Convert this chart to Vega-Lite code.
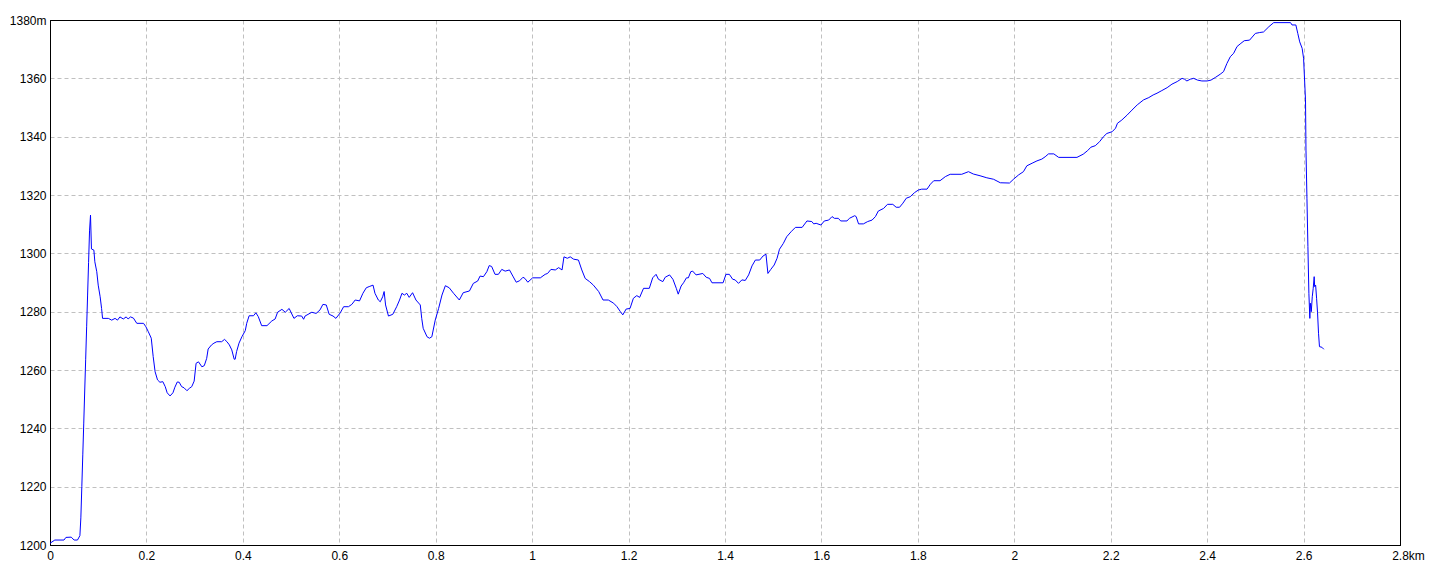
{
  "$schema": "https://vega.github.io/schema/vega-lite/v6.json",
  "width": 1350,
  "height": 525,
  "autosize": {"type": "none"},
  "padding": {"left": 50, "top": 20, "right": 40, "bottom": 31},
  "background": "white",
  "config": {
    "view": {"stroke": "black", "strokeWidth": 1},
    "axis": {
      "domainColor": "black",
      "domainWidth": 1,
      "ticks": false,
      "grid": true,
      "gridWidth": 1,
      "labelFont": "Liberation Sans",
      "labelFontSize": 12,
      "labelColor": "black",
      "title": null
    }
  },
  "data": {
    "values": [
      {"km": 0.000, "m": 1200.6}, {"km": 0.010, "m": 1201.7}, {"km": 0.029, "m": 1201.7}, {"km": 0.033, "m": 1202.6},
      {"km": 0.044, "m": 1202.7}, {"km": 0.050, "m": 1201.7}, {"km": 0.057, "m": 1201.7}, {"km": 0.062, "m": 1203.2},
      {"km": 0.064, "m": 1209.3}, {"km": 0.066, "m": 1220.0}, {"km": 0.068, "m": 1230.9}, {"km": 0.070, "m": 1241.8},
      {"km": 0.072, "m": 1252.8}, {"km": 0.074, "m": 1263.7}, {"km": 0.076, "m": 1274.8}, {"km": 0.078, "m": 1285.7},
      {"km": 0.080, "m": 1296.8}, {"km": 0.082, "m": 1307.7}, {"km": 0.084, "m": 1313.1}, {"km": 0.086, "m": 1301.5},
      {"km": 0.091, "m": 1301.1}, {"km": 0.093, "m": 1297.1}, {"km": 0.097, "m": 1293.7}, {"km": 0.100, "m": 1289.1},
      {"km": 0.104, "m": 1285.1}, {"km": 0.107, "m": 1281.1}, {"km": 0.109, "m": 1277.7}, {"km": 0.121, "m": 1277.7},
      {"km": 0.128, "m": 1277.1}, {"km": 0.135, "m": 1277.7}, {"km": 0.140, "m": 1277.1}, {"km": 0.145, "m": 1278.2},
      {"km": 0.152, "m": 1277.5}, {"km": 0.158, "m": 1278.2}, {"km": 0.162, "m": 1277.5}, {"km": 0.167, "m": 1278.2},
      {"km": 0.173, "m": 1277.8}, {"km": 0.180, "m": 1276.0}, {"km": 0.194, "m": 1276.0}, {"km": 0.199, "m": 1274.8},
      {"km": 0.204, "m": 1273.1}, {"km": 0.210, "m": 1270.9}, {"km": 0.214, "m": 1264.6}, {"km": 0.218, "m": 1259.4},
      {"km": 0.223, "m": 1256.6}, {"km": 0.228, "m": 1255.8}, {"km": 0.234, "m": 1256.0}, {"km": 0.239, "m": 1254.3},
      {"km": 0.243, "m": 1252.2}, {"km": 0.249, "m": 1251.1}, {"km": 0.255, "m": 1252.2}, {"km": 0.259, "m": 1254.1},
      {"km": 0.264, "m": 1255.9}, {"km": 0.268, "m": 1255.8}, {"km": 0.273, "m": 1254.3}, {"km": 0.278, "m": 1253.9},
      {"km": 0.284, "m": 1252.9}, {"km": 0.289, "m": 1253.7}, {"km": 0.294, "m": 1254.3}, {"km": 0.299, "m": 1256.2},
      {"km": 0.303, "m": 1262.3}, {"km": 0.308, "m": 1262.8}, {"km": 0.315, "m": 1261.1}, {"km": 0.320, "m": 1261.5},
      {"km": 0.325, "m": 1264.0}, {"km": 0.328, "m": 1267.2}, {"km": 0.335, "m": 1268.6}, {"km": 0.340, "m": 1269.2},
      {"km": 0.346, "m": 1269.7}, {"km": 0.356, "m": 1269.7}, {"km": 0.362, "m": 1270.5}, {"km": 0.367, "m": 1269.7},
      {"km": 0.372, "m": 1268.6}, {"km": 0.377, "m": 1266.9}, {"km": 0.382, "m": 1263.7}, {"km": 0.384, "m": 1263.7},
      {"km": 0.387, "m": 1266.3}, {"km": 0.392, "m": 1269.2}, {"km": 0.398, "m": 1271.4}, {"km": 0.405, "m": 1273.5},
      {"km": 0.408, "m": 1276.0}, {"km": 0.413, "m": 1278.6}, {"km": 0.422, "m": 1278.6}, {"km": 0.427, "m": 1279.6},
      {"km": 0.432, "m": 1278.3}, {"km": 0.439, "m": 1275.2}, {"km": 0.450, "m": 1275.2}, {"km": 0.460, "m": 1276.8},
      {"km": 0.467, "m": 1277.5}, {"km": 0.472, "m": 1279.8}, {"km": 0.481, "m": 1280.8}, {"km": 0.488, "m": 1279.8},
      {"km": 0.496, "m": 1281.1}, {"km": 0.506, "m": 1277.7}, {"km": 0.513, "m": 1278.6}, {"km": 0.522, "m": 1278.5},
      {"km": 0.526, "m": 1277.4}, {"km": 0.529, "m": 1278.5}, {"km": 0.543, "m": 1279.8}, {"km": 0.552, "m": 1279.4},
      {"km": 0.560, "m": 1280.6}, {"km": 0.566, "m": 1282.5}, {"km": 0.573, "m": 1282.3}, {"km": 0.579, "m": 1279.1},
      {"km": 0.587, "m": 1278.5}, {"km": 0.593, "m": 1277.7}, {"km": 0.602, "m": 1279.6}, {"km": 0.609, "m": 1281.7},
      {"km": 0.619, "m": 1281.7}, {"km": 0.626, "m": 1282.5}, {"km": 0.633, "m": 1284.0}, {"km": 0.642, "m": 1283.7},
      {"km": 0.649, "m": 1286.3}, {"km": 0.656, "m": 1288.2}, {"km": 0.662, "m": 1288.6}, {"km": 0.670, "m": 1289.1},
      {"km": 0.674, "m": 1286.3}, {"km": 0.681, "m": 1284.0}, {"km": 0.685, "m": 1283.4}, {"km": 0.690, "m": 1285.1},
      {"km": 0.693, "m": 1286.9}, {"km": 0.696, "m": 1282.3}, {"km": 0.702, "m": 1278.5}, {"km": 0.711, "m": 1279.1},
      {"km": 0.719, "m": 1281.7}, {"km": 0.725, "m": 1284.0}, {"km": 0.730, "m": 1286.3}, {"km": 0.735, "m": 1285.7},
      {"km": 0.740, "m": 1286.3}, {"km": 0.745, "m": 1284.9}, {"km": 0.752, "m": 1286.5}, {"km": 0.759, "m": 1284.0},
      {"km": 0.768, "m": 1282.3}, {"km": 0.771, "m": 1277.7}, {"km": 0.774, "m": 1274.3}, {"km": 0.782, "m": 1271.4},
      {"km": 0.787, "m": 1270.9}, {"km": 0.792, "m": 1271.4}, {"km": 0.799, "m": 1277.1}, {"km": 0.806, "m": 1281.1},
      {"km": 0.813, "m": 1285.7}, {"km": 0.820, "m": 1288.9}, {"km": 0.828, "m": 1288.2}, {"km": 0.837, "m": 1286.3},
      {"km": 0.849, "m": 1284.0}, {"km": 0.857, "m": 1286.5}, {"km": 0.870, "m": 1287.1}, {"km": 0.878, "m": 1289.7},
      {"km": 0.887, "m": 1290.5}, {"km": 0.892, "m": 1292.2}, {"km": 0.899, "m": 1292.0}, {"km": 0.906, "m": 1293.7},
      {"km": 0.911, "m": 1295.8}, {"km": 0.916, "m": 1295.5}, {"km": 0.923, "m": 1292.8}, {"km": 0.930, "m": 1292.8},
      {"km": 0.937, "m": 1294.5}, {"km": 0.944, "m": 1293.9}, {"km": 0.953, "m": 1294.3}, {"km": 0.960, "m": 1292.2},
      {"km": 0.967, "m": 1290.1}, {"km": 0.974, "m": 1290.6}, {"km": 0.981, "m": 1291.8}, {"km": 0.985, "m": 1291.4},
      {"km": 0.991, "m": 1290.1}, {"km": 1.001, "m": 1291.6}, {"km": 1.017, "m": 1291.6}, {"km": 1.027, "m": 1292.8},
      {"km": 1.032, "m": 1293.1}, {"km": 1.039, "m": 1294.5}, {"km": 1.048, "m": 1294.3}, {"km": 1.055, "m": 1295.1},
      {"km": 1.062, "m": 1294.3}, {"km": 1.066, "m": 1298.8}, {"km": 1.073, "m": 1298.3}, {"km": 1.079, "m": 1298.8},
      {"km": 1.086, "m": 1298.0}, {"km": 1.096, "m": 1297.7}, {"km": 1.103, "m": 1294.3}, {"km": 1.110, "m": 1291.4},
      {"km": 1.119, "m": 1290.3}, {"km": 1.127, "m": 1289.1}, {"km": 1.138, "m": 1286.9}, {"km": 1.147, "m": 1284.0},
      {"km": 1.158, "m": 1284.0}, {"km": 1.169, "m": 1282.9}, {"km": 1.176, "m": 1281.7}, {"km": 1.183, "m": 1280.0},
      {"km": 1.188, "m": 1278.9}, {"km": 1.195, "m": 1280.9}, {"km": 1.203, "m": 1281.1}, {"km": 1.210, "m": 1284.6},
      {"km": 1.217, "m": 1285.5}, {"km": 1.223, "m": 1284.9}, {"km": 1.231, "m": 1288.0}, {"km": 1.243, "m": 1288.0},
      {"km": 1.250, "m": 1291.6}, {"km": 1.257, "m": 1292.8}, {"km": 1.262, "m": 1291.1}, {"km": 1.271, "m": 1290.3},
      {"km": 1.276, "m": 1291.8}, {"km": 1.285, "m": 1292.6}, {"km": 1.292, "m": 1291.1}, {"km": 1.299, "m": 1288.0},
      {"km": 1.303, "m": 1286.0}, {"km": 1.309, "m": 1288.8}, {"km": 1.314, "m": 1289.9}, {"km": 1.320, "m": 1291.6},
      {"km": 1.324, "m": 1291.6}, {"km": 1.329, "m": 1293.7}, {"km": 1.333, "m": 1293.9}, {"km": 1.340, "m": 1292.6},
      {"km": 1.354, "m": 1293.1}, {"km": 1.361, "m": 1291.8}, {"km": 1.368, "m": 1291.4}, {"km": 1.373, "m": 1289.9},
      {"km": 1.396, "m": 1289.9}, {"km": 1.402, "m": 1292.8}, {"km": 1.409, "m": 1292.8}, {"km": 1.416, "m": 1291.1},
      {"km": 1.421, "m": 1290.9}, {"km": 1.428, "m": 1289.7}, {"km": 1.435, "m": 1290.9}, {"km": 1.442, "m": 1290.7},
      {"km": 1.449, "m": 1292.6}, {"km": 1.456, "m": 1295.7}, {"km": 1.463, "m": 1297.7}, {"km": 1.472, "m": 1297.7},
      {"km": 1.479, "m": 1299.1}, {"km": 1.485, "m": 1299.7}, {"km": 1.489, "m": 1293.1}, {"km": 1.495, "m": 1294.5},
      {"km": 1.502, "m": 1296.0}, {"km": 1.508, "m": 1298.3}, {"km": 1.513, "m": 1301.4}, {"km": 1.521, "m": 1303.4},
      {"km": 1.528, "m": 1305.7}, {"km": 1.537, "m": 1307.4}, {"km": 1.546, "m": 1308.9}, {"km": 1.560, "m": 1308.9},
      {"km": 1.570, "m": 1311.1}, {"km": 1.580, "m": 1310.9}, {"km": 1.584, "m": 1310.1}, {"km": 1.589, "m": 1310.3},
      {"km": 1.599, "m": 1309.7}, {"km": 1.606, "m": 1311.1}, {"km": 1.615, "m": 1311.4}, {"km": 1.622, "m": 1312.6},
      {"km": 1.627, "m": 1312.0}, {"km": 1.635, "m": 1312.0}, {"km": 1.640, "m": 1311.1}, {"km": 1.653, "m": 1311.1},
      {"km": 1.658, "m": 1312.0}, {"km": 1.669, "m": 1312.9}, {"km": 1.672, "m": 1312.6}, {"km": 1.677, "m": 1310.1},
      {"km": 1.687, "m": 1310.1}, {"km": 1.696, "m": 1310.9}, {"km": 1.705, "m": 1311.4}, {"km": 1.712, "m": 1312.6},
      {"km": 1.718, "m": 1314.5}, {"km": 1.729, "m": 1315.4}, {"km": 1.737, "m": 1316.8}, {"km": 1.748, "m": 1316.8},
      {"km": 1.755, "m": 1315.8}, {"km": 1.762, "m": 1315.8}, {"km": 1.769, "m": 1317.2}, {"km": 1.776, "m": 1318.9},
      {"km": 1.784, "m": 1319.4}, {"km": 1.793, "m": 1320.8}, {"km": 1.801, "m": 1321.7}, {"km": 1.808, "m": 1322.0},
      {"km": 1.819, "m": 1322.0}, {"km": 1.826, "m": 1323.7}, {"km": 1.833, "m": 1324.9}, {"km": 1.846, "m": 1324.9},
      {"km": 1.857, "m": 1326.3}, {"km": 1.867, "m": 1327.1}, {"km": 1.891, "m": 1327.1}, {"km": 1.905, "m": 1328.0},
      {"km": 1.915, "m": 1327.2}, {"km": 1.929, "m": 1326.6}, {"km": 1.943, "m": 1325.9}, {"km": 1.957, "m": 1325.4},
      {"km": 1.971, "m": 1324.2}, {"km": 1.990, "m": 1324.1}, {"km": 1.999, "m": 1325.5}, {"km": 2.009, "m": 1326.9},
      {"km": 2.019, "m": 1328.0}, {"km": 2.026, "m": 1330.0}, {"km": 2.037, "m": 1330.9}, {"km": 2.047, "m": 1331.7},
      {"km": 2.057, "m": 1332.3}, {"km": 2.064, "m": 1333.1}, {"km": 2.071, "m": 1334.1}, {"km": 2.082, "m": 1334.1},
      {"km": 2.092, "m": 1332.9}, {"km": 2.130, "m": 1332.9}, {"km": 2.143, "m": 1334.0}, {"km": 2.152, "m": 1335.2},
      {"km": 2.159, "m": 1336.4}, {"km": 2.168, "m": 1336.9}, {"km": 2.177, "m": 1338.3}, {"km": 2.185, "m": 1340.0},
      {"km": 2.192, "m": 1341.1}, {"km": 2.203, "m": 1341.7}, {"km": 2.210, "m": 1342.9}, {"km": 2.214, "m": 1344.6},
      {"km": 2.223, "m": 1345.7}, {"km": 2.234, "m": 1347.4}, {"km": 2.244, "m": 1349.1}, {"km": 2.255, "m": 1350.9},
      {"km": 2.268, "m": 1352.6}, {"km": 2.279, "m": 1353.4}, {"km": 2.288, "m": 1354.3}, {"km": 2.296, "m": 1354.9},
      {"km": 2.306, "m": 1355.8}, {"km": 2.317, "m": 1356.8}, {"km": 2.327, "m": 1358.0}, {"km": 2.338, "m": 1358.9},
      {"km": 2.348, "m": 1360.0}, {"km": 2.353, "m": 1359.7}, {"km": 2.358, "m": 1359.1}, {"km": 2.365, "m": 1359.7},
      {"km": 2.372, "m": 1360.0}, {"km": 2.380, "m": 1359.4}, {"km": 2.389, "m": 1359.1}, {"km": 2.400, "m": 1359.1},
      {"km": 2.408, "m": 1359.4}, {"km": 2.417, "m": 1360.3}, {"km": 2.427, "m": 1361.4}, {"km": 2.434, "m": 1362.3},
      {"km": 2.441, "m": 1365.1}, {"km": 2.448, "m": 1367.4}, {"km": 2.455, "m": 1368.6}, {"km": 2.462, "m": 1370.9},
      {"km": 2.470, "m": 1372.0}, {"km": 2.477, "m": 1372.9}, {"km": 2.488, "m": 1373.1}, {"km": 2.500, "m": 1375.4},
      {"km": 2.509, "m": 1375.7}, {"km": 2.517, "m": 1375.9}, {"km": 2.528, "m": 1377.7}, {"km": 2.538, "m": 1379.1},
      {"km": 2.573, "m": 1379.1}, {"km": 2.576, "m": 1378.3}, {"km": 2.584, "m": 1378.3}, {"km": 2.588, "m": 1375.4},
      {"km": 2.592, "m": 1372.5}, {"km": 2.597, "m": 1370.3}, {"km": 2.600, "m": 1366.9}, {"km": 2.604, "m": 1352.6},
      {"km": 2.605, "m": 1335.4}, {"km": 2.607, "m": 1318.9}, {"km": 2.609, "m": 1302.3}, {"km": 2.611, "m": 1286.3},
      {"km": 2.613, "m": 1277.7}, {"km": 2.614, "m": 1282.9}, {"km": 2.616, "m": 1280.0}, {"km": 2.618, "m": 1285.1},
      {"km": 2.620, "m": 1288.0}, {"km": 2.622, "m": 1292.0}, {"km": 2.623, "m": 1288.6}, {"km": 2.625, "m": 1289.1},
      {"km": 2.627, "m": 1284.6}, {"km": 2.629, "m": 1279.6}, {"km": 2.631, "m": 1272.6}, {"km": 2.633, "m": 1268.0},
      {"km": 2.638, "m": 1267.8}, {"km": 2.642, "m": 1267.1}
    ]
  },
  "mark": {"type": "line", "color": "#0000ff", "strokeWidth": 1, "interpolate": "linear"},
  "encoding": {
    "x": {
      "field": "km",
      "type": "quantitative",
      "scale": {"domain": [0, 2.8], "nice": false, "zero": false},
      "axis": {
        "values": [0, 0.2, 0.4, 0.6, 0.8, 1, 1.2, 1.4, 1.6, 1.8, 2, 2.2, 2.4, 2.6, 2.8],
        "labelExpr": "datum.value == 2.8 ? '2.8km' : format(datum.value, '~g')",
        "labelOffset": {"condition": {"test": "datum.value == 2.8", "value": 8}, "value": 0},
        "gridColor": {"condition": {"test": "datum.value == 2.8 || datum.value == 0", "value": "black"}, "value": "#c0c0c0"},
        "gridDash": {"condition": {"test": "datum.value == 2.8 || datum.value == 0", "value": []}, "value": [4, 3]},
        "labelPadding": 5,
        "labelFlush": false
      }
    },
    "y": {
      "field": "m",
      "type": "quantitative",
      "scale": {"domain": [1200, 1380], "nice": false, "zero": false},
      "axis": {
        "values": [1200, 1220, 1240, 1260, 1280, 1300, 1320, 1340, 1360, 1380],
        "labelExpr": "datum.value == 1380 ? '1380m' : format(datum.value, 'd')",
        "gridColor": {"condition": {"test": "datum.value == 1380 || datum.value == 1200", "value": "black"}, "value": "#c0c0c0"},
        "gridDash": {"condition": {"test": "datum.value == 1380 || datum.value == 1200", "value": []}, "value": [4, 3]},
        "labelPadding": 4,
        "labelFlush": false
      }
    }
  }
}
